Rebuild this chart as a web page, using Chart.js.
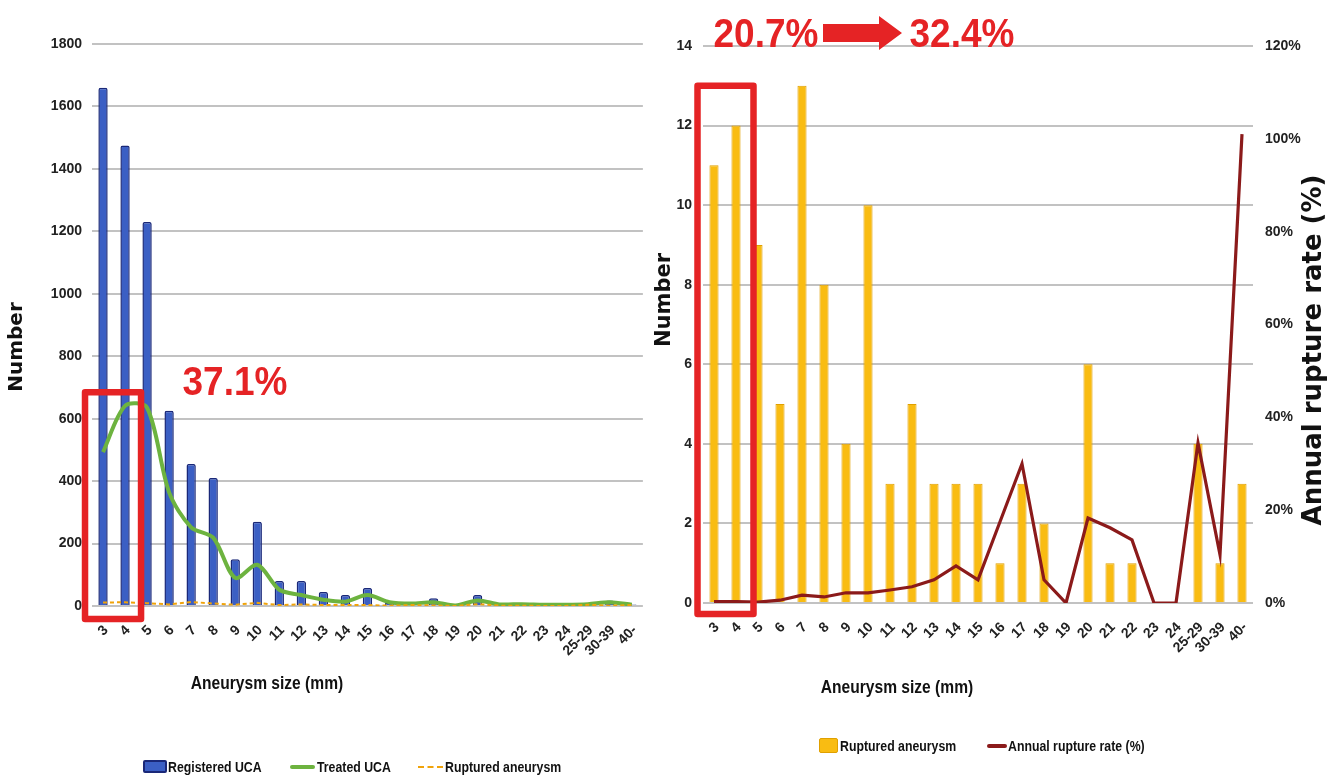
<!DOCTYPE html>
<html>
<head>
<meta charset="utf-8">
<script src="https://cdn.jsdelivr.net/npm/chart.js@4.4.1/dist/chart.umd.min.js"></script>
<style>
html,body{margin:0;padding:0;background:#fff;}
#wrap{position:relative;width:1334px;height:779px;overflow:hidden;background:#fff;}
#c1{position:absolute;left:0;top:0;}
#c2{position:absolute;left:650px;top:0;}
.lg{position:absolute;font:bold 15px "Liberation Sans Narrow","Arial Narrow","Liberation Sans",sans-serif;color:#111;line-height:16px;white-space:nowrap;transform:scaleX(0.82);transform-origin:0 50%;}
.sym{position:absolute;box-sizing:border-box;}
</style>
</head>
<body>
<div id="wrap">
<canvas id="c1" width="660" height="779"></canvas>
<canvas id="c2" width="684" height="779"></canvas>

<div class="sym" style="left:143px;top:760px;width:24px;height:13px;background:#3b5fc4;border:2px solid #1a2878;border-radius:2px;"></div>
<div class="lg" style="left:168px;top:759px;">Registered UCA</div>
<div class="sym" style="left:290px;top:765px;width:25px;height:4px;background:#6db33f;border-radius:2px;"></div>
<div class="lg" style="left:317px;top:759px;">Treated UCA</div>
<div class="sym" style="left:418px;top:766px;width:25px;height:0;border-top:2px dashed #f0a30a;"></div>
<div class="lg" style="left:445px;top:759px;">Ruptured aneurysm</div>

<div class="sym" style="left:819px;top:738px;width:19px;height:15px;background:#f9bc12;border:1px solid #e0a000;border-radius:2px;"></div>
<div class="lg" style="left:840px;top:738px;">Ruptured aneurysm</div>
<div class="sym" style="left:987px;top:744px;width:20px;height:4px;background:#8b1a1a;border-radius:2px;"></div>
<div class="lg" style="left:1008px;top:738px;">Annual rupture rate (%)</div>
</div>

<script>
// ---------- data ----------
const categories = ['3','4','5','6','7','8','9','10','11','12','13','14','15','16','17','18','19','20','21','22','23','24','25-29','30-39','40-'];
const registeredUCA = [1660,1475,1230,625,455,410,150,270,80,80,45,35,58,10,12,25,4,35,5,5,5,5,8,18,5];
const treatedUCA    = [493,641,635,364,252,219,90,132,52,35,20,14,35,12,8,12,2,18,5,6,4,4,6,12,4];
const rupturedAneurysm = [11,12,9,5,13,8,4,10,3,5,3,3,3,1,3,2,0,6,1,1,0,0,4,1,3];
const annualRuptureRate = [0.3,0.3,0.2,0.6,1.7,1.3,2.2,2.2,2.8,3.5,5,8,5,17.5,30,5,0,18.3,16.2,13.6,0,0,34.5,10.4,101];
const leftAxis  = {min:0, max:1800, step:200};
const countAxis = {min:0, max:14, step:2};
const rateAxis  = {min:0, max:120, step:20};

const SANS = '"Liberation Sans",Arial,sans-serif';
const RED = '#e52325';
const tickFont = {family: SANS, size: 14, weight: 'bold'};

function rotText(ctx, txt, x, y, ang, font, sx){
  ctx.save();
  ctx.translate(x, y); ctx.rotate(ang); ctx.scale(sx || 1, 1);
  ctx.font = font; ctx.fillStyle = '#111';
  ctx.textAlign = 'center'; ctx.textBaseline = 'middle';
  ctx.fillText(txt, 0, 0);
  ctx.restore();
}
function bigRed(ctx, txt, cx, baseY){
  ctx.save();
  ctx.translate(cx, baseY); ctx.scale(1, 1.12);
  ctx.font = 'bold 37px ' + SANS;
  ctx.fillStyle = RED; ctx.textAlign = 'center'; ctx.textBaseline = 'alphabetic';
  ctx.fillText(txt, 0, 0);
  ctx.restore();
}
function redBox(ctx, x0, y0, x1, y1){
  ctx.save();
  ctx.strokeStyle = RED; ctx.lineWidth = 6.5; ctx.lineJoin = 'round';
  ctx.strokeRect(x0, y0, x1 - x0, y1 - y0);
  ctx.restore();
}

const annot1 = {
  id: 'annot1',
  afterDraw(chart){
    const {ctx, chartArea: ca, scales: {x, y}} = chart;
    rotText(ctx, 'Number', 17, 347, -Math.PI/2, 'bold 20px "DejaVu Sans", sans-serif');
    rotText(ctx, 'Aneurysm size (mm)', 267, 684, 0, 'bold 19px ' + SANS, 0.82);
    redBox(ctx, x.getPixelForValue(0) - 18, y.getPixelForValue(685), x.getPixelForValue(1) + 16, ca.bottom + 13);
    bigRed(ctx, '37.1%', 235, 395);
  }
};

const annot2 = {
  id: 'annot2',
  afterDraw(chart){
    const {ctx, chartArea: ca, scales: {x, y}} = chart;
    rotText(ctx, 'Number', 15, 300, -Math.PI/2, 'bold 21px "DejaVu Sans", sans-serif');
    rotText(ctx, 'Annual rupture rate (%)', 664, 350, -Math.PI/2, 'bold 26px "DejaVu Sans", sans-serif');
    rotText(ctx, 'Aneurysm size (mm)', 247, 688, 0, 'bold 19px ' + SANS, 0.82);
    redBox(ctx, x.getPixelForValue(0) - 16.5, y.getPixelForValue(13), x.getPixelForValue(1) + 17.5, ca.bottom + 11);
    bigRed(ctx, '20.7%', 116, 47);
    bigRed(ctx, '32.4%', 312, 47);
    // arrow
    ctx.save();
    ctx.fillStyle = RED;
    ctx.beginPath();
    ctx.moveTo(173, 24); ctx.lineTo(229, 24); ctx.lineTo(229, 16); ctx.lineTo(252, 33);
    ctx.lineTo(229, 50); ctx.lineTo(229, 42); ctx.lineTo(173, 42); ctx.closePath();
    ctx.fill();
    ctx.restore();
  }
};

new Chart(document.getElementById('c1'), {
  type: 'bar',
  data: {
    labels: categories,
    datasets: [
      {type: 'line', label: 'Ruptured aneurysm', data: rupturedAneurysm, borderColor: '#f0a30a', borderWidth: 2, borderDash: [4, 3], pointRadius: 0, fill: false, order: 0},
      {type: 'line', label: 'Treated UCA', data: treatedUCA, borderColor: '#6db33f', borderWidth: 4, pointRadius: 0, tension: 0.3, fill: false, order: 1},
      {type: 'bar', label: 'Registered UCA', data: registeredUCA, backgroundColor: '#3b5fc4', borderColor: '#1a2878', borderWidth: 1.5, borderRadius: 2, borderSkipped: 'bottom', barPercentage: 0.47, categoryPercentage: 0.9, order: 2}
    ]
  },
  options: {
    responsive: false, animation: false, devicePixelRatio: 1,
    layout: {padding: {left: 0, top: 44, right: 13, bottom: 0}},
    plugins: {legend: {display: false}, tooltip: {enabled: false}},
    scales: {
      x: {
        grid: {display: false, drawTicks: false}, border: {display: false},
        ticks: {minRotation: 45, maxRotation: 45, padding: 16, labelOffset: 3, autoSkip: false, color: '#222', font: tickFont},
        afterFit(s){ s.height = 173; }
      },
      y: {
        min: leftAxis.min, max: leftAxis.max,
        ticks: {stepSize: leftAxis.step, padding: 10, color: '#222', font: tickFont, callback: v => String(v)},
        grid: {color: '#c2c2c2', lineWidth: 2, drawTicks: false}, border: {display: false},
        afterFit(s){ s.width = 92; }
      }
    }
  },
  plugins: [annot1]
});

new Chart(document.getElementById('c2'), {
  type: 'bar',
  data: {
    labels: categories,
    datasets: [
      {type: 'line', label: 'Annual rupture rate (%)', data: annualRuptureRate, yAxisID: 'y2', borderColor: '#8b1a1a', borderWidth: 3.2, pointRadius: 0, tension: 0, fill: false, order: 0},
      {type: 'bar', label: 'Ruptured aneurysm', data: rupturedAneurysm, yAxisID: 'y', backgroundColor: '#f9bc12', borderColor: '#e0a000', borderWidth: 1, barPercentage: 0.46, categoryPercentage: 0.9, order: 1}
    ]
  },
  options: {
    responsive: false, animation: false, devicePixelRatio: 1,
    layout: {padding: {left: 0, top: 46, right: 0, bottom: 0}},
    plugins: {legend: {display: false}, tooltip: {enabled: false}},
    scales: {
      x: {
        grid: {display: false, drawTicks: false}, border: {display: false},
        ticks: {minRotation: 45, maxRotation: 45, padding: 16, labelOffset: 3, autoSkip: false, color: '#222', font: tickFont},
        afterFit(s){ s.height = 176; }
      },
      y: {
        position: 'left', min: countAxis.min, max: countAxis.max,
        ticks: {stepSize: countAxis.step, padding: 11, color: '#222', font: tickFont},
        grid: {color: '#c2c2c2', lineWidth: 2, drawTicks: false}, border: {display: false},
        afterFit(s){ s.width = 53; }
      },
      y2: {
        position: 'right', min: rateAxis.min, max: rateAxis.max,
        ticks: {stepSize: rateAxis.step, padding: 12, color: '#222', font: tickFont, callback: v => v + '%'},
        grid: {display: false, drawTicks: false}, border: {display: false},
        afterFit(s){ s.width = 81; }
      }
    }
  },
  plugins: [annot2]
});
</script>
</body>
</html>
